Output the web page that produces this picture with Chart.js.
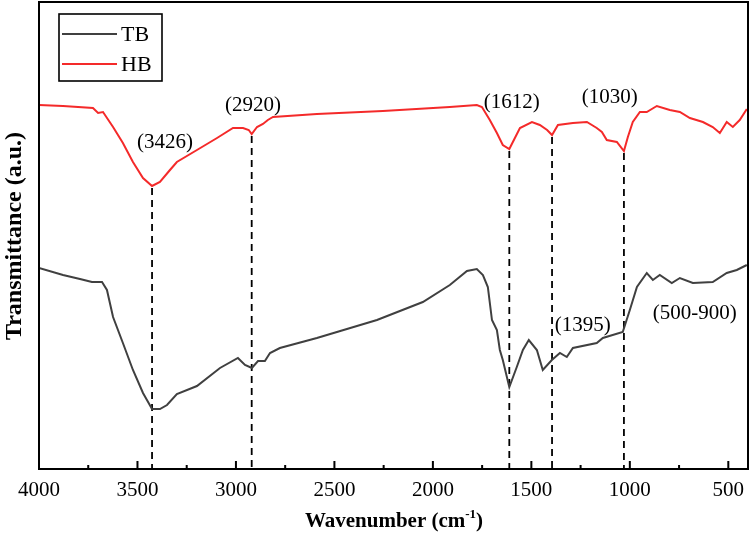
<!DOCTYPE html>
<html>
<head>
<meta charset="utf-8">
<script src="https://cdn.jsdelivr.net/npm/chart.js@4/dist/chart.umd.min.js"></script>
<style>
html,body{margin:0;padding:0;background:#fff;}
#wrap{width:750px;height:536px;}
</style>
</head>
<body>
<div id="wrap"><canvas id="c" width="750" height="536"></canvas></div>
<script>
// ---- data ----
const hbWave = [4000,3878,3726,3700,3675,3624,3574,3523,3472,3426,3386,3335,3300,3198,3096,3015,2964,2935,2920,2893,2863,2838,2812,2589,2254,1914,1777,1751,1711,1675,1645,1612,1558,1497,1457,1420,1395,1365,1289,1218,1168,1142,1117,1066,1030,1010,985,949,914,863,797,746,695,629,579,543,508,477,442,406];
const hbValue = [364,363,361,356,357,342,326,307,291,283,287,299,307,319,331,341,341,339,335,342,345,349,352,355,358,362,364,362,349,336,324,320,341,347,344,339,334,344,346,347,341,337,329,327,318,332,347,357,357,363,359,357,351,347,342,336,347,342,349,360];

const tbWave = [4000,3878,3792,3731,3680,3655,3624,3574,3523,3472,3426,3386,3350,3300,3198,3081,2990,2954,2919,2888,2853,2827,2777,2589,2284,2051,1914,1827,1777,1746,1721,1700,1675,1660,1645,1612,1574,1543,1513,1472,1442,1396,1355,1320,1289,1168,1137,1036,1000,964,914,883,848,787,746,680,579,508,457,406];
const tbValue = [201,194,190,187,187,179,152,126,99,76,60,60,64,75,83,101,111,104,101,108,108,116,121,131,149,167,184,198,200,194,182,149,139,119,109,82,102,119,129,119,99,109,116,112,121,126,131,137,159,182,196,189,194,186,191,186,187,196,199,204];

const peakWave = [3426,2920,1612,1395,1030];
const peakTop  = [281,333,318,332,316];

const noteText = ["(3426)","(2920)","(1612)","(1395)","(1030)","(500-900)"];
const noteWave = [3360,2914,1599,1239,1102,670];
const noteValue = [327,364,367,144,372,156];

const tickLabels = [4000,3500,3000,2500,2000,1500,1000,500];
const minorTicks = [3750,3250,2750,2250,1750,1250,750];

const seriesNames = ["TB","HB"];
const seriesColors = ["#404040","#f42a2a"];

// ---- build ----
const SERIF = '"Liberation Serif","Times New Roman",serif';
const toPts = (xs, ys) => xs.map((x, i) => ({x: x, y: ys[i]}));

const datasets = [
  {label: seriesNames[0], data: toPts(tbWave, tbValue), borderColor: seriesColors[0], borderWidth: 2, pointRadius: 0, tension: 0},
  {label: seriesNames[1], data: toPts(hbWave, hbValue), borderColor: seriesColors[1], borderWidth: 2, pointRadius: 0, tension: 0}
];
peakWave.forEach((w, i) => {
  datasets.push({label: 'peak' + w, data: [{x: w, y: peakTop[i]}, {x: w, y: 0}], borderColor: '#000', borderWidth: 1.8, borderDash: [7, 5], pointRadius: 0});
});

const decor = {
  id: 'decor',
  afterDraw(chart) {
    const ctx = chart.ctx, a = chart.chartArea, xs = chart.scales.x, ys = chart.scales.y;
    ctx.save();
    // frame
    ctx.strokeStyle = '#000'; ctx.lineWidth = 2;
    ctx.strokeRect(a.left, a.top, a.right - a.left, a.bottom - a.top);
    // inward ticks
    ctx.beginPath();
    tickLabels.forEach(v => { const p = xs.getPixelForValue(v); ctx.moveTo(p, a.bottom); ctx.lineTo(p, a.bottom - 8); });
    minorTicks.forEach(v => { const p = xs.getPixelForValue(v); ctx.moveTo(p, a.bottom); ctx.lineTo(p, a.bottom - 4); });
    ctx.stroke();
    // peak notes
    ctx.fillStyle = '#000';
    ctx.font = '21px ' + SERIF;
    ctx.textAlign = 'center'; ctx.textBaseline = 'middle';
    noteText.forEach((t, i) => ctx.fillText(t, xs.getPixelForValue(noteWave[i]), ys.getPixelForValue(noteValue[i])));
    // legend
    const lx = 59, ly = 14, lw = 103, lh = 67;
    ctx.fillStyle = '#fff'; ctx.fillRect(lx, ly, lw, lh);
    ctx.strokeStyle = '#000'; ctx.lineWidth = 1.6; ctx.strokeRect(lx, ly, lw, lh);
    ctx.font = '22px ' + SERIF; ctx.textAlign = 'left'; ctx.textBaseline = 'middle';
    seriesNames.forEach((n, i) => {
      const yy = ly + 20 + i * 30;
      ctx.strokeStyle = seriesColors[i]; ctx.lineWidth = 2;
      ctx.beginPath(); ctx.moveTo(lx + 3, yy); ctx.lineTo(lx + 58, yy); ctx.stroke();
      ctx.fillStyle = '#000'; ctx.fillText(n, lx + 62, yy + 1);
    });
    // x title with superscript
    ctx.fillStyle = '#000';
    ctx.textBaseline = 'alphabetic'; ctx.textAlign = 'left';
    const f1 = 'bold 21px ' + SERIF, f2 = 'bold 13px ' + SERIF;
    const p1 = 'Wavenumber (cm', p2 = '-1', p3 = ')';
    ctx.font = f1; const w1 = ctx.measureText(p1).width, w3 = ctx.measureText(p3).width;
    ctx.font = f2; const w2 = ctx.measureText(p2).width;
    let sx = 394 - (w1 + w2 + w3) / 2;
    const by = 527;
    ctx.font = f1; ctx.fillText(p1, sx, by);
    ctx.font = f2; ctx.fillText(p2, sx + w1, by - 9);
    ctx.font = f1; ctx.fillText(p3, sx + w1 + w2, by);
    // y title
    ctx.translate(15, 236);
    ctx.rotate(-Math.PI / 2);
    ctx.font = 'bold 24px ' + SERIF; ctx.textAlign = 'center'; ctx.textBaseline = 'middle';
    ctx.fillText('Transmittance (a.u.)', 0, 0);
    ctx.restore();
  }
};

new Chart(document.getElementById('c'), {
  type: 'line',
  data: {datasets: datasets},
  options: {
    responsive: false,
    animation: false,
    devicePixelRatio: 1,
    layout: {padding: {left: 39, right: 2, top: 2, bottom: 0}},
    plugins: {legend: {display: false}, tooltip: {enabled: false}},
    scales: {
      x: {
        type: 'linear', reverse: true, min: 400, max: 4000,
        grid: {display: false, drawTicks: false},
        border: {display: false},
        afterBuildTicks: s => { s.ticks = tickLabels.map(v => ({value: v})); },
        afterFit: s => { s.height = 67; s.paddingLeft = 0; s.paddingRight = 0; },
        ticks: {padding: 9, color: '#000', font: {family: SERIF, size: 21, lineHeight: 1.2}, maxRotation: 0, autoSkip: false,
                callback: v => String(v)}
      },
      y: {type: 'linear', display: false, min: 0, max: 467}
    }
  },
  plugins: [decor]
});
</script>
</body>
</html>
